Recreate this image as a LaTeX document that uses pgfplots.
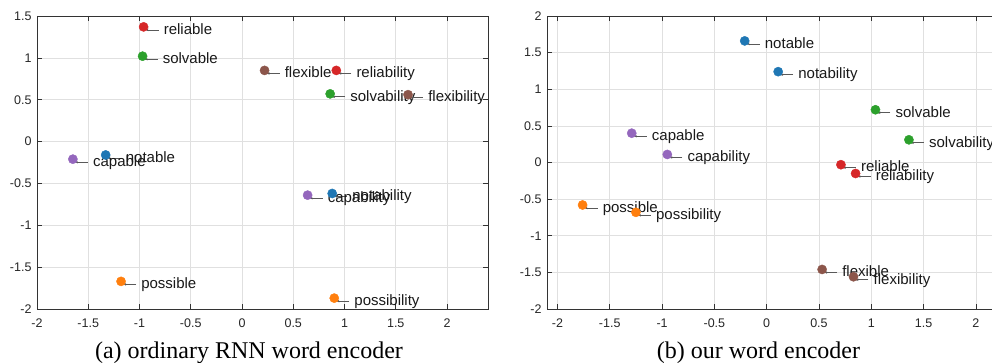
\documentclass[border=0pt]{standalone}
\usepackage{pgfplots}
\pgfplotsset{compat=1.18}
\usepackage{fontspec}
\setmainfont{Liberation Sans}
\newfontfamily\capfont{Liberation Serif}
\usetikzlibrary{arrows.meta}
\definecolor{c1}{HTML}{1F77B4}
\definecolor{c2}{HTML}{FF7F0E}
\definecolor{c3}{HTML}{2CA02C}
\definecolor{c4}{HTML}{D62728}
\definecolor{c5}{HTML}{9467BD}
\definecolor{c6}{HTML}{8C564B}
\newcommand{\labfont}{\fontsize{15}{17}\selectfont}
\newcommand{\lab}[3]{%
  \draw[-{Stealth[length=3pt,width=2.4pt]}, draw=black!65, line width=0.75pt]
    ([xshift=15pt,yshift=-3pt]axis cs:#1,#2) -- ([xshift=2pt,yshift=-3pt]axis cs:#1,#2);
  \node[anchor=base west, inner sep=0pt, font=\labfont, text=black!90] at ([xshift=20pt,yshift=-7.3pt]axis cs:#1,#2) {#3};
}
\pgfplotsset{mystyle/.style={
  scale only axis, height=293pt,
  axis line style={black!80, line width=0.8pt},
  tick style={black!80, line width=0.6pt},
  major tick length=5pt, tick align=inside,
  grid=major, major grid style={black!12, line width=0.7pt},
  ticklabel style={font=\fontsize{12.5}{14}\selectfont, text=black!85},
  /pgf/number format/assume math mode=true,
  clip=false,
  xtick={-2,-1.5,-1,-0.5,0,0.5,1,1.5,2},
  xticklabel style={yshift=-6pt},
  yticklabel style={xshift=-2pt},
  anchor=south west,
  every axis plot/.append style={only marks, mark=*, mark size=4.6pt},
}}
\begin{document}
\begin{tikzpicture}
\begin{axis}[mystyle, at={(37pt,53pt)}, width=451pt,
  xmin=-2, xmax=2.4, ymin=-2, ymax=1.5,
  ytick={-2,-1.5,-1,-0.5,0,0.5,1,1.5}]
\addplot[color=c1] coordinates {(-1.33,-0.16) (0.88,-0.62)};
\addplot[color=c2] coordinates {(-1.18,-1.67) (0.90,-1.87)};
\addplot[color=c3] coordinates {(-0.97,1.02) (0.86,0.57)};
\addplot[color=c4] coordinates {(-0.96,1.37) (0.92,0.85)};
\addplot[color=c5] coordinates {(-1.65,-0.21) (0.64,-0.64)};
\addplot[color=c6] coordinates {(0.22,0.85) (1.62,0.56)};
\lab{-1.33}{-0.16}{notable}
\lab{0.88}{-0.62}{notability}
\lab{-1.18}{-1.67}{possible}
\lab{0.90}{-1.87}{possibility}
\lab{-0.97}{1.02}{solvable}
\lab{0.86}{0.57}{solvability}
\lab{-0.96}{1.37}{reliable}
\lab{0.92}{0.85}{reliability}
\lab{-1.65}{-0.21}{capable}
\lab{0.64}{-0.64}{capability}
\lab{0.22}{0.85}{flexible}
\lab{1.62}{0.56}{flexibility}
\end{axis}
\begin{axis}[mystyle, at={(547pt,53pt)}, width=470.7pt,
  xmin=-2.1, xmax=2.4, ymin=-2, ymax=2,
  ytick={-2,-1.5,-1,-0.5,0,0.5,1,1.5,2}]
\addplot[color=c1] coordinates {(-0.21,1.66) (0.11,1.24)};
\addplot[color=c2] coordinates {(-1.76,-0.58) (-1.25,-0.68)};
\addplot[color=c3] coordinates {(1.04,0.72) (1.36,0.31)};
\addplot[color=c4] coordinates {(0.71,-0.03) (0.85,-0.15)};
\addplot[color=c5] coordinates {(-1.29,0.40) (-0.95,0.11)};
\addplot[color=c6] coordinates {(0.53,-1.46) (0.83,-1.56)};
\lab{-0.21}{1.66}{notable}
\lab{0.11}{1.24}{notability}
\lab{-1.76}{-0.58}{possible}
\lab{-1.25}{-0.68}{possibility}
\lab{1.04}{0.72}{solvable}
\lab{1.36}{0.31}{solvability}
\lab{0.71}{-0.03}{reliable}
\lab{0.85}{-0.15}{reliability}
\lab{-1.29}{0.40}{capable}
\lab{-0.95}{0.11}{capability}
\lab{0.53}{-1.46}{flexible}
\lab{0.83}{-1.56}{flexibility}
\end{axis}
\node[font=\capfont\fontsize{24}{28}\selectfont, anchor=base] at (249pt,4pt) {(a)\ ordinary RNN word encoder};
\node[font=\capfont\fontsize{24}{28}\selectfont, anchor=base] at (758.5pt,4pt) {(b)\ our word encoder};
\pgfresetboundingbox
\path (0,0) rectangle (992pt,362pt);
\end{tikzpicture}
\end{document}
